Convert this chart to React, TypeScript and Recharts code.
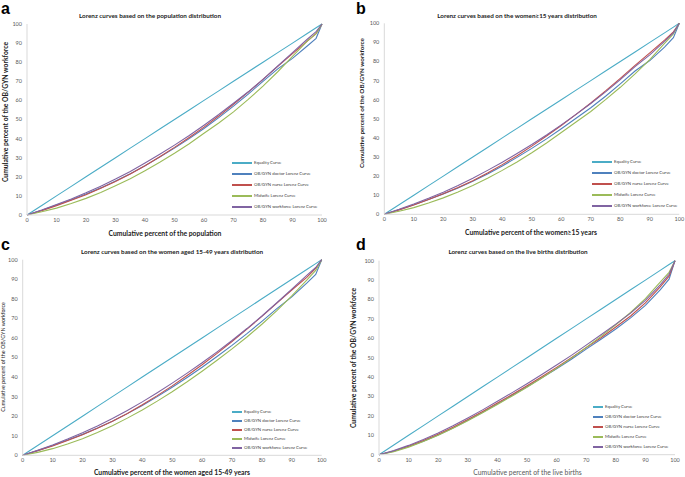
import React from "react";
import { LineChart, Line, XAxis, YAxis, Legend } from "recharts";

const xValues = [0, 5, 10, 15, 20, 25, 30, 35, 40, 45, 50, 55, 60, 65, 70, 75, 80, 85, 90, 95, 98, 100];
const equality = [0, 5, 10, 15, 20, 25, 30, 35, 40, 45, 50, 55, 60, 65, 70, 75, 80, 85, 90, 95, 98, 100];
const axisTicks = [0, 10, 20, 30, 40, 50, 60, 70, 80, 90, 100];

const seriesNames = [
  "Equality Curve",
  "OB/GYN doctor Lorenz Curve",
  "OB/GYN nurse Lorenz Curve",
  "Midwife Lorenz Curve",
  "OB/GYN workforce Lorenz Curve",
];
const seriesColors = ["#4bacc6", "#4f81bd", "#c0504d", "#9bbb59", "#8064a2"];

// Panel a: population
const aDoctor = [0, 2.5, 5.2, 8, 11, 14.2, 17.8, 21.6, 25.8, 30.3, 35, 40, 45.3, 51, 57, 63.3, 70, 76.5, 82, 88.5, 92.5, 100];
const aNurse = [0, 2.3, 4.9, 7.7, 10.6, 14, 17.6, 21.5, 25.8, 30.5, 35.4, 40.6, 46, 51.8, 58, 64.3, 71, 77.8, 84.5, 91, 95, 100];
const aMidwife = [0, 1.7, 3.6, 6, 8.7, 11.8, 15.3, 19, 23.2, 27.6, 32.3, 37.3, 42.8, 48.2, 54, 60.5, 67.5, 75, 83, 91, 95, 100];
const aWorkforce = [0, 2.6, 5.5, 8.4, 11.6, 15.1, 18.8, 22.8, 27.2, 31.8, 36.6, 41.6, 47, 52.6, 58.5, 64.5, 71, 78, 85, 92, 96, 100];

// Panel b: women >= 15 years
const bDoctor = [0, 2.4, 5, 7.8, 10.7, 13.8, 17.3, 21.1, 25.3, 29.8, 34.5, 39.5, 44.8, 50.3, 55.8, 61.8, 68.3, 75, 80.5, 87.5, 92.5, 100];
const bNurse = [0, 2.3, 4.9, 7.7, 10.7, 14, 17.6, 21.6, 26, 30.7, 35.7, 41, 46.5, 52.3, 58.3, 64.6, 71.2, 78, 84.5, 91.2, 95.5, 100];
const bMidwife = [0, 1.6, 3.5, 5.9, 8.6, 11.7, 15.1, 18.9, 23, 27.4, 32.2, 37.3, 42.8, 48.3, 53.8, 60, 66.5, 73.5, 81, 89.5, 94.5, 100];
const bWorkforce = [0, 2.6, 5.4, 8.4, 11.6, 15.1, 18.9, 23, 27.3, 31.8, 36.5, 41.5, 46.8, 52.3, 58, 64.1, 70.5, 77.3, 83.5, 90.5, 95, 100];

// Panel c: women aged 15-49 years
const cDoctor = [0, 2.4, 5, 7.8, 10.7, 13.9, 17.4, 21.3, 25.5, 30, 34.8, 39.8, 45, 50.5, 56.2, 62.2, 68.5, 75, 81, 88, 92.5, 100];
const cNurse = [0, 2.3, 4.8, 7.6, 10.5, 13.8, 17.4, 21.4, 25.8, 30.5, 35.5, 40.8, 46.3, 52.1, 58.2, 64.5, 71, 77.8, 84.5, 91, 95.5, 100];
const cMidwife = [0, 1.5, 3.4, 5.8, 8.5, 11.6, 15.1, 19, 23.2, 27.7, 32.5, 37.6, 43, 48.6, 54.4, 60.5, 67, 74, 81.5, 89.5, 94.5, 100];
const cWorkforce = [0, 2.6, 5.3, 8.3, 11.5, 15, 18.8, 22.9, 27.3, 32, 36.9, 42, 47.3, 52.9, 58.7, 64.8, 71.2, 78, 85, 92, 96, 100];

// Panel d: live births
const dDoctor = [0, 1.8, 4.2, 7, 10.2, 13.7, 17.7, 21.9, 26.2, 30.6, 35, 39.6, 44.3, 49.2, 54.4, 59.5, 64.8, 70.5, 77, 85, 90.5, 100];
const dNurse = [0, 1.9, 4.4, 7.3, 10.6, 14.2, 18.1, 22.3, 26.6, 31, 35.5, 40.2, 45, 50, 55.2, 60.3, 65.8, 71.5, 78.3, 86.5, 92, 100];
const dMidwife = [0, 1.6, 3.9, 6.8, 10, 13.6, 17.5, 21.6, 25.9, 30.3, 34.8, 39.5, 44.5, 49.8, 55.3, 61, 67, 73.3, 80.5, 89, 94, 100];
const dWorkforce = [0, 2.1, 4.8, 7.8, 11.2, 14.9, 18.9, 23.1, 27.5, 32, 36.6, 41.3, 46.2, 51.2, 56.5, 61.8, 67.3, 73, 79.5, 87.5, 93, 100];

const FONT = "Lato, 'Open Sans', sans-serif";

function buildData(doc: number[], nur: number[], mid: number[], wf: number[]) {
  return xValues.map((x, i) => ({
    x,
    eq: equality[i],
    doc: doc[i],
    nur: nur[i],
    mid: mid[i],
    wf: wf[i],
  }));
}

const keys = ["eq", "doc", "nur", "mid", "wf"];

type PanelProps = {
  left: number;
  top: number;
  width: number;
  height: number;
  letter: string;
  letterX: number;
  letterY: number;
  title: string;
  titleX: number;
  titleY: number;
  xLabel: string;
  xLabelX: number;
  xLabelY: number;
  xLabelBold: boolean;
  xLabelColor: string;
  yLabelX: number;
  yLabelY: number;
  yLabelSize: number;
  yLabelBold: boolean;
  margin: { top: number; right: number; bottom: number; left: number };
  yWidth: number;
  xHeight: number;
  legendX: number;
  legendY: number;
  legendLine: number;
  legendRow: number;
  data: any[];
};

function Panel(p: PanelProps) {
  const renderLegend = () => (
    <div style={{ position: "relative", width: 120, height: p.legendRow * 5 }}>
      {seriesNames.map((name, i) => (
        <div
          key={name}
          style={{
            position: "absolute",
            left: 0,
            top: Math.round(i * p.legendRow),
            height: 6,
            display: "flex",
            alignItems: "center",
            fontFamily: FONT,
            fontSize: 4.3,
            lineHeight: "6px",
            color: "#404040",
            whiteSpace: "nowrap",
          }}
        >
          <div style={{ width: p.legendLine, height: 1.5, background: seriesColors[i], marginRight: 2 }} />
          <span>{name}</span>
        </div>
      ))}
    </div>
  );
  return (
    <div style={{ position: "absolute", left: p.left, top: p.top, width: p.width, height: p.height }}>
      <div
        style={{
          position: "absolute",
          left: p.letterX,
          top: p.letterY,
          fontFamily: "'Liberation Sans', Arial, sans-serif",
          fontWeight: 700,
          fontSize: 16,
          lineHeight: "18px",
          color: "#000",
        }}
      >
        {p.letter}
      </div>
      <div
        style={{
          position: "absolute",
          left: p.titleX - 150,
          width: 300,
          top: p.titleY - 4,
          textAlign: "center",
          fontFamily: FONT,
          fontWeight: 700,
          fontSize: 6.3,
          color: "#222",
          whiteSpace: "nowrap",
          lineHeight: "8px",
        }}
      >
        {p.title}
      </div>
      <div
        style={{
          position: "absolute",
          left: p.xLabelX - 150,
          width: 300,
          top: p.xLabelY - 4,
          textAlign: "center",
          fontFamily: FONT,
          fontWeight: p.xLabelBold ? 700 : 400,
          fontSize: 6.8,
          color: p.xLabelColor,
          whiteSpace: "nowrap",
          lineHeight: "8px",
        }}
      >
        {p.xLabel}
      </div>
      <div
        style={{
          position: "absolute",
          left: p.yLabelX - 150,
          width: 300,
          top: p.yLabelY - 4,
          textAlign: "center",
          transform: "rotate(-90deg)",
          fontFamily: FONT,
          fontWeight: p.yLabelBold ? 700 : 400,
          fontSize: p.yLabelSize,
          color: "#222",
          whiteSpace: "nowrap",
          lineHeight: "8px",
        }}
      >
        Cumulative percent of the OB/GYN workforce
      </div>
      <LineChart width={p.width} height={p.height} data={p.data} margin={p.margin}>
        <XAxis
          dataKey="x"
          type="number"
          domain={[0, 100]}
          ticks={axisTicks}
          interval={0}
          height={p.xHeight}
          tickLine={false}
          tickSize={3}
          tickMargin={0}
          stroke="#d9d9d9"
          tick={{ fontSize: 5.5, fill: "#595959", fontFamily: FONT }}
        />
        <YAxis
          type="number"
          domain={[0, 100]}
          ticks={axisTicks}
          interval={0}
          width={p.yWidth}
          tickLine={false}
          tickSize={3}
          tickMargin={2}
          stroke="#d9d9d9"
          tick={{ fontSize: 5.5, fill: "#595959", fontFamily: FONT }}
        />
        <Legend
          layout="vertical"
          align="center"
          verticalAlign="middle"
          content={renderLegend}
          wrapperStyle={{ position: "absolute", left: p.legendX, top: p.legendY, width: 120, height: p.legendRow * 5 }}
        />
        {keys.map((k, i) => (
          <Line
            key={k}
            dataKey={k}
            name={seriesNames[i]}
            stroke={seriesColors[i]}
            strokeWidth={1.1}
            dot={false}
            type="linear"
            isAnimationActive={false}
          />
        ))}
      </LineChart>
    </div>
  );
}

export default function App() {
  return (
    <div style={{ position: "absolute", left: 0, top: 0, width: 685, height: 477, background: "#fff", overflow: "hidden" }}>
      <Panel
        left={0}
        top={0}
        width={340}
        height={238}
        letter="a"
        letterX={1}
        letterY={0}
        title="Lorenz curves based on the population distribution"
        titleX={150}
        titleY={15.5}
        xLabel="Cumulative percent  of the population"
        xLabelX={165}
        xLabelY={233}
        xLabelBold={true}
        xLabelColor="#222"
        yLabelX={5}
        yLabelY={112}
        yLabelSize={6.8}
        yLabelBold={true}
        margin={{ top: 24, right: 18, bottom: 3, left: 7 }}
        yWidth={20}
        xHeight={20}
        legendX={232}
        legendY={160}
        legendLine={20}
        legendRow={11}
        data={buildData(aDoctor, aNurse, aMidwife, aWorkforce)}
      />
      <Panel
        left={340}
        top={0}
        width={345}
        height={238}
        letter="b"
        letterX={16}
        letterY={0}
        title="Lorenz curves based on the women≥15 years distribution"
        titleX={177}
        titleY={15.5}
        xLabel="Cumulative percent  of the women≥15 years"
        xLabelX={191}
        xLabelY={232}
        xLabelBold={true}
        xLabelColor="#222"
        yLabelX={22}
        yLabelY={103}
        yLabelSize={6.3}
        yLabelBold={true}
        margin={{ top: 23.3, right: 5.7, bottom: 3.7, left: 24.3 }}
        yWidth={20}
        xHeight={20}
        legendX={252}
        legendY={159}
        legendLine={20}
        legendRow={11}
        data={buildData(bDoctor, bNurse, bMidwife, bWorkforce)}
      />
      <Panel
        left={0}
        top={238}
        width={340}
        height={239}
        letter="c"
        letterX={1}
        letterY={-2}
        title="Lorenz curves based on the women aged 15-49 years distribution"
        titleX={172}
        titleY={14}
        xLabel="Cumulative percent  of the women aged 15-49 years"
        xLabelX={172}
        xLabelY={234}
        xLabelBold={true}
        xLabelColor="#222"
        yLabelX={3}
        yLabelY={119}
        yLabelSize={5.4}
        yLabelBold={false}
        margin={{ top: 21.7, right: 18.3, bottom: 1.7, left: 2.7 }}
        yWidth={20}
        xHeight={20}
        legendX={232}
        legendY={171}
        legendLine={10}
        legendRow={9}
        data={buildData(cDoctor, cNurse, cMidwife, cWorkforce)}
      />
      <Panel
        left={340}
        top={238}
        width={345}
        height={239}
        letter="d"
        letterX={16}
        letterY={-2}
        title="Lorenz curves based on the live births distribution"
        titleX={178}
        titleY={14}
        xLabel="Cumulative percent  of the live births"
        xLabelX={187.5}
        xLabelY={234}
        xLabelBold={false}
        xLabelColor="#595959"
        yLabelX={13}
        yLabelY={120}
        yLabelSize={6.8}
        yLabelBold={true}
        margin={{ top: 22.7, right: 10, bottom: 2.3, left: 19 }}
        yWidth={20}
        xHeight={20}
        legendX={253}
        legendY={166}
        legendLine={10}
        legendRow={10}
        data={buildData(dDoctor, dNurse, dMidwife, dWorkforce)}
      />
    </div>
  );
}
